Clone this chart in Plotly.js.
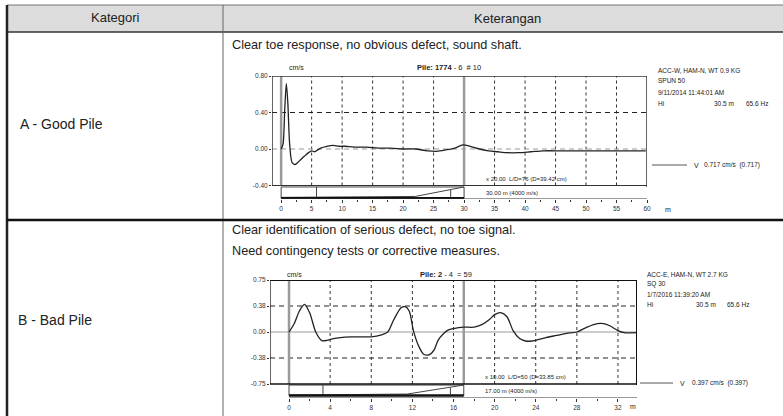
<!DOCTYPE html>
<html><head><meta charset="utf-8">
<script src="https://cdn.plot.ly/plotly-3.0.1.min.js"></script>
<style>html,body{margin:0;padding:0;background:#fff;overflow:hidden;} #chart{width:783px;height:416px;}</style>
</head><body><div id="chart"></div>
<script>
// ---------------- data ----------------
const headerLabels = ["Kategori", "Keterangan"];
const categories = ["A - Good Pile", "B - Bad Pile"];
const descriptionA = ["Clear toe response, no obvious defect, sound shaft."];
const descriptionB = ["Clear identification of serious defect, no toe signal.", "Need contingency tests or corrective measures."];

// Pile A velocity trace (depth m, velocity cm/s)
const depthA = [0, 0.3, 0.6, 0.85, 1.1, 1.4, 1.8, 2.3, 3.0, 3.8, 4.5, 5.0, 5.5, 6.0, 6.5, 7.5, 8.5, 9.5, 10.5, 12, 14, 16, 18, 20, 22, 24, 25.5, 27, 28.5, 29.8, 31, 32.5, 34, 35.5, 37, 39, 41, 43, 46, 50, 55, 59.8];
const velA = [0, 0.05, 0.45, 0.717, 0.5, 0.05, -0.15, -0.17, -0.13, -0.08, -0.04, -0.02, -0.03, -0.01, 0.01, 0.03, 0.04, 0.03, 0.03, 0.02, 0.02, 0.01, 0.01, 0.0, 0.0, -0.02, -0.025, -0.01, 0.01, 0.045, 0.03, 0.0, -0.02, -0.03, -0.04, -0.04, -0.03, -0.02, -0.02, -0.02, -0.02, -0.02];

// Pile B velocity trace
const depthB = [0, 0.5, 1.0, 1.5, 2.0, 2.6, 3.2, 3.7, 4.2, 5.0, 6.0, 7.0, 8.0, 9.0, 9.6, 10.2, 10.9, 11.3, 11.7, 12.1, 12.6, 13.1, 13.6, 14.1, 14.5, 15.0, 15.5, 16.0, 17.0, 18.0, 18.8, 19.5, 20.0, 20.6, 21.2, 21.8, 22.4, 23.0, 23.6, 24.2, 25.0, 26.0, 27.0, 28.0, 29.0, 30.0, 30.6, 31.2, 32.0, 32.6, 33.8];
const velB = [0, 0.12, 0.30, 0.397, 0.28, 0.0, -0.125, -0.12, -0.10, -0.08, -0.07, -0.07, -0.07, -0.04, 0.0, 0.18, 0.35, 0.365, 0.30, 0.02, -0.20, -0.32, -0.33, -0.26, -0.12, -0.03, 0.03, 0.05, 0.07, 0.07, 0.11, 0.18, 0.25, 0.28, 0.22, 0.02, -0.09, -0.13, -0.13, -0.11, -0.08, -0.05, -0.02, 0.0, 0.07, 0.12, 0.12, 0.09, 0.02, -0.01, -0.01];

// Pile profile sketches (under the traces)
const profileAX = [0, 30, null, 30, 30, null, 0, 0, null, 5.8, 5.8, null, 0, 22, 30, null, 27.8, 27.8];
const profileAY = [-0.416, -0.416, null, -0.416, -0.54, null, -0.416, -0.54, null, -0.416, -0.525, null, -0.53, -0.52, -0.416, null, -0.45, -0.525];
const profileABaseX = [0, 30];
const profileABaseY = [-0.54, -0.54];
const profileBX = [0, 17, null, 17, 17, null, 0, 0, null, 3.3, 3.3, null, 0, 11.5, 17, null, 15.7, 15.7];
const profileBY = [-0.765, -0.765, null, -0.765, -0.92, null, -0.765, -0.92, null, -0.765, -0.90, null, -0.91, -0.895, -0.765, null, -0.80, -0.90];
const profileBBaseX = [0, 17];
const profileBBaseY = [-0.915, -0.915];

// Axes ticks
const xTicksA = [0, 5, 10, 15, 20, 25, 30, 35, 40, 45, 50, 55, 60];
const yTicksA = [-0.40, 0.00, 0.40, 0.80];
const yTickTextA = ["-0.40", "0.00", "0.40", "0.80"];
const xTicksB = [0, 4, 8, 12, 16, 20, 24, 28, 32];
const yTicksB = [-0.75, -0.375, 0, 0.375, 0.75];
const yTickTextB = ["-0.75", "-0.38", "0.00", "0.38", "0.75"];
const markersA = [0, 30];
const markersB = [0, 17];

// Annotation texts
const titleA = "<b>Pile: 1774</b> - 6  # 10";
const titleB = "<b>Pile: 2</b> - 4  = 59";
const infoA = ["ACC-W, HAM-N, WT 0.9 KG", "SPUN 50", "9/11/2014 11:44:01 AM"];
const hiA = ["Hi", "30.5 m", "65.6 Hz"];
const infoB = ["ACC-E, HAM-N, WT 2.7 KG", "SQ 30", "1/7/2016 11:39:20 AM"];
const hiB = ["Hi", "30.5 m", "65.6 Hz"];
const scaleA = ["x 20.00  L/D=76 (D=39.42 cm)", "30.00 m (4000 m/s)"];
const scaleB = ["x 10.00  L/D=50 (D=33.85 cm)", "17.00 m (4000 m/s)"];
const legendA = ["V", "0.717 cm/s  (0.717)"];
const legendB = ["V", "0.397 cm/s  (0.397)"];

// ---------------- helpers ----------------
const W = 783, H = 416;
const px = x => x / W;
const py = y => 1 - y / H;
const FONT = "Liberation Sans, Arial, sans-serif";
const shapes = [];
const ann = [];
function pline(x0, y0, x1, y1, color, width, dash) {
  shapes.push({type: 'line', xref: 'paper', yref: 'paper', x0: px(x0), y0: py(y0), x1: px(x1), y1: py(y1),
    line: {color: color, width: width, dash: dash || 'solid'}, layer: 'above'});
}
function dline(xa, ya, x0, y0, x1, y1, color, width, dash, layer) {
  shapes.push({type: 'line', xref: xa, yref: ya, x0: x0, y0: y0, x1: x1, y1: y1,
    line: {color: color, width: width, dash: dash || 'solid'}, layer: layer || 'below'});
}
function ptext(x, y, text, size, anchor, color) {
  ann.push({xref: 'paper', yref: 'paper', x: px(x), y: py(y), text: text, showarrow: false,
    xanchor: anchor || 'left', yanchor: 'middle', font: {family: FONT, size: size, color: color || '#222'}});
}

// ---------------- table ----------------
shapes.push({type: 'rect', xref: 'paper', yref: 'paper', x0: px(7), x1: px(783), y0: py(32), y1: py(5),
  fillcolor: '#dcdcdc', line: {width: 0}, layer: 'below'});
pline(7, 5, 783, 5, '#777', 1);
pline(7, 32, 783, 32, '#333', 1.5);
pline(7, 5, 7, 416, '#222', 2.5);
pline(223, 5, 223, 416, '#666', 1);
pline(7, 220, 783, 220, '#111', 2.5);

ptext(115, 18, headerLabels[0], 13, 'center');
ptext(508, 19, headerLabels[1], 13, 'center');
ptext(18, 124, categories[0], 14, 'left');
ptext(16, 320, categories[1], 14, 'left');
ptext(230, 45, descriptionA[0], 12.7, 'left');
ptext(230, 230, descriptionB[0], 12.7, 'left');
ptext(230, 251, descriptionB[1], 12.7, 'left');

// ---------------- chart A decorations ----------------
const xrA = [-1.5, 60], yrA = [-0.548, 0.80];
for (const t of xTicksA) { if (t > 0 && t < 60 && t !== 30) dline('x', 'y', t, -0.40, t, 0.80, '#333', 1, '3px,3px'); }
dline('x', 'y', xrA[0], 0.40, xrA[1], 0.40, '#222', 1, '5px,4px');
dline('x', 'y', xrA[0], 0.00, xrA[1], 0.00, '#999', 1, '5px,4px');
for (const m of markersA) dline('x', 'y', m, -0.40, m, 0.80, '#9a9a9a', 2.5);
dline('x', 'y', xrA[0], 0.80, xrA[1], 0.80, '#333', 1.5, 'solid', 'above');
dline('x', 'y', xrA[0], -0.40, xrA[0], 0.80, '#333', 1.5, 'solid', 'above');
dline('x', 'y', xrA[1], -0.416, xrA[1], 0.80, '#333', 1.5, 'solid', 'above');
dline('x', 'y', xrA[0], -0.40, xrA[1], -0.40, '#333', 1, 'solid', 'above');
dline('x', 'y', 0, yrA[0], 60, yrA[0], '#333', 1, 'solid', 'above');

ptext(287, 68, 'cm/s', 7);
ptext(415, 68, titleA, 7.5);
ptext(656, 70, infoA[0], 6.5); ptext(656, 81, infoA[1], 6.5); ptext(656, 92, infoA[2], 6.5);
ptext(656, 103, hiA[0], 6.5); ptext(712, 103, hiA[1], 6.5); ptext(744, 103, hiA[2], 6.5);
ptext(484, 179, scaleA[0], 6);
ptext(484, 193, scaleA[1], 6);
pline(652, 165, 687, 165, '#555', 1);
ptext(692, 165, legendA[0], 7); ptext(702, 165, legendA[1], 6.5);
ptext(663, 209, 'm', 7);

// ---------------- chart B decorations ----------------
const xrB = [-1.85, 33.85], yrB = [-0.952, 0.75];
for (const t of xTicksB) { if (t > 0) dline('x2', 'y2', t, -0.75, t, 0.75, '#333', 1, '3px,3px'); }
dline('x2', 'y2', xrB[0], 0.375, xrB[1], 0.375, '#222', 1, '5px,4px');
dline('x2', 'y2', xrB[0], -0.375, xrB[1], -0.375, '#222', 1, '5px,4px');
dline('x2', 'y2', xrB[0], 0.0, xrB[1], 0.0, '#999', 1);
for (const m of markersB) dline('x2', 'y2', m, -0.75, m, 0.75, '#9a9a9a', 2.5);
dline('x2', 'y2', xrB[0], 0.75, xrB[1], 0.75, '#111', 2, 'solid', 'above');
dline('x2', 'y2', xrB[0], -0.75, xrB[0], 0.75, '#333', 1.5, 'solid', 'above');
dline('x2', 'y2', xrB[1], -0.765, xrB[1], 0.75, '#111', 2, 'solid', 'above');
dline('x2', 'y2', xrB[0], -0.75, xrB[1], -0.75, '#111', 1.5, 'solid', 'above');
dline('x2', 'y2', 0, yrB[0], xrB[1], yrB[0], '#333', 1, 'solid', 'above');

ptext(285, 274, 'cm/s', 7);
ptext(418, 274, titleB, 7.5);
ptext(645, 274, infoB[0], 6.5); ptext(645, 284, infoB[1], 6.5); ptext(645, 294, infoB[2], 6.5);
ptext(645, 304, hiB[0], 6.5); ptext(694, 304, hiB[1], 6.5); ptext(725, 304, hiB[2], 6.5);
ptext(483, 377, scaleB[0], 6);
ptext(483, 391, scaleB[1], 6);
pline(640, 383, 673, 383, '#555', 1);
ptext(678, 383, legendB[0], 7); ptext(690, 383, legendB[1], 6.5);
ptext(628, 406, 'm', 7);

// ---------------- traces ----------------
const traces = [
  {x: profileAX, y: profileAY, xaxis: 'x', yaxis: 'y', mode: 'lines', line: {color: '#444', width: 1}, hoverinfo: 'skip'},
  {x: profileABaseX, y: profileABaseY, xaxis: 'x', yaxis: 'y', mode: 'lines', line: {color: '#111', width: 2.5}, hoverinfo: 'skip'},
  {x: depthA, y: velA, xaxis: 'x', yaxis: 'y', mode: 'lines', line: {color: '#222', width: 1.3, shape: 'spline', smoothing: 0.8}},
  {x: profileBX, y: profileBY, xaxis: 'x2', yaxis: 'y2', mode: 'lines', line: {color: '#444', width: 1}, hoverinfo: 'skip'},
  {x: profileBBaseX, y: profileBBaseY, xaxis: 'x2', yaxis: 'y2', mode: 'lines', line: {color: '#111', width: 2.5}, hoverinfo: 'skip'},
  {x: depthB, y: velB, xaxis: 'x2', yaxis: 'y2', mode: 'lines', line: {color: '#222', width: 1.3, shape: 'spline', smoothing: 0.8}}
];

const axFont = {family: FONT, size: 6.5, color: '#333'};
const layout = {
  width: W, height: H, margin: {l: 0, r: 0, t: 0, b: 0}, showlegend: false,
  paper_bgcolor: '#fff', plot_bgcolor: 'rgba(0,0,0,0)',
  xaxis: {domain: [px(272), px(647)], range: xrA, anchor: 'y', tickvals: xTicksA, ticks: 'outside', ticklen: 3,
    tickcolor: '#333', tickfont: axFont, showgrid: false, zeroline: false, showline: false,
    minor: {tickvals: [2.5, 7.5, 12.5, 17.5, 22.5, 27.5, 32.5, 37.5, 42.5, 47.5, 52.5, 57.5], ticks: 'outside', ticklen: 2, tickcolor: '#333'}},
  yaxis: {domain: [py(199), py(76)], range: yrA, anchor: 'x', tickvals: yTicksA, ticktext: yTickTextA, ticks: 'outside', ticklen: 2,
    tickcolor: '#333', tickfont: axFont, showgrid: false, zeroline: false, showline: false},
  xaxis2: {domain: [px(270), px(637)], range: xrB, anchor: 'y2', tickvals: xTicksB, ticks: 'outside', ticklen: 3,
    tickcolor: '#333', tickfont: axFont, showgrid: false, zeroline: false, showline: false,
    minor: {tickvals: [2, 6, 10, 14, 18, 22, 26, 30], ticks: 'outside', ticklen: 2, tickcolor: '#333'}},
  yaxis2: {domain: [py(398), py(280)], range: yrB, anchor: 'x2', tickvals: yTicksB, ticktext: yTickTextB, ticks: 'outside', ticklen: 2,
    tickcolor: '#333', tickfont: axFont, showgrid: false, zeroline: false, showline: false},
  shapes: shapes, annotations: ann
};
Plotly.newPlot('chart', traces, layout, {staticPlot: true, displayModeBar: false});
</script>
</body></html>
